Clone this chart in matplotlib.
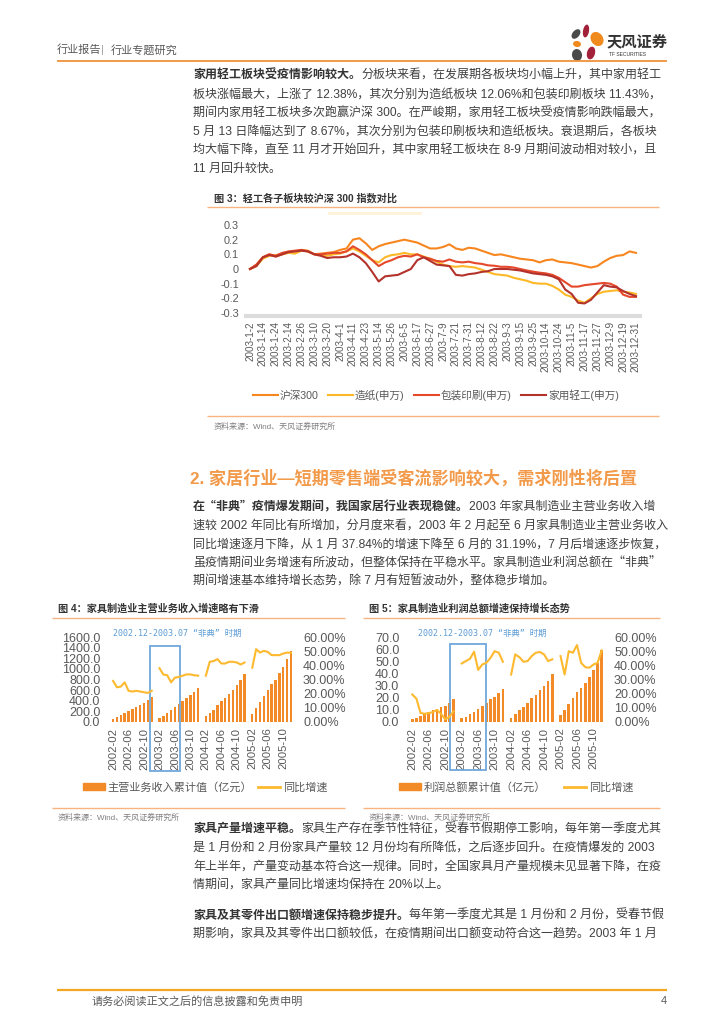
import numpy as np
import matplotlib
matplotlib.use('Agg')
import matplotlib.pyplot as plt
from matplotlib.patches import Rectangle, Ellipse, Patch
from matplotlib.lines import Line2D
import matplotlib.transforms as mtransforms

plt.rcParams['font.family'] = ['Liberation Sans', 'Noto Sans CJK SC', 'DejaVu Sans']
plt.rcParams['axes.unicode_minus'] = False

# ------------------------------------------------------------------ data
# Figure 3: relative performance in 2003, sampled every 4 trading days
sample_day = list(range(0, 241, 4))
hs300 = [0, 0.03, 0.08, 0.1, 0.085, 0.1, 0.115, 0.12, 0.13, 0.125,
         0.1, 0.105, 0.11, 0.115, 0.13, 0.14, 0.2, 0.21, 0.175, 0.13,
         0.155, 0.17, 0.18, 0.19, 0.2, 0.19, 0.18, 0.16, 0.14, 0.14,
         0.15, 0.168, 0.14, 0.13, 0.145, 0.14, 0.125, 0.11, 0.095, 0.1,
         0.09, 0.08, 0.07, 0.065, 0.06, 0.045, 0.06, 0.065, 0.05, 0.045,
         0.04, 0.03, 0.02, 0.01, 0.02, 0.05, 0.075, 0.09, 0.095, 0.12, 0.11]
paper = [0, 0.02, 0.07, 0.09, 0.095, 0.1, 0.11, 0.105, 0.125, 0.12,
         0.1, 0.095, 0.09, 0.1, 0.105, 0.12, 0.14, 0.12, 0.09, 0.06,
         0.045, 0.08, 0.095, 0.1, 0.11, 0.1, 0.1, 0.085, 0.07, 0.05,
         0.03, 0.02, 0.015, 0.02, 0.015, 0.01, -0.005, -0.02, -0.035, -0.04,
         -0.045, -0.06, -0.07, -0.08, -0.095, -0.1, -0.1, -0.115, -0.14, -0.175,
         -0.19, -0.215, -0.23, -0.2, -0.17, -0.155, -0.15, -0.145, -0.155, -0.16, -0.17]
packaging = [0, 0.03, 0.08, 0.1, 0.09, 0.11, 0.12, 0.125, 0.13, 0.12,
             0.1, 0.1, 0.105, 0.11, 0.11, 0.12, 0.155, 0.13, 0.1, 0.06,
             0.02, 0.045, 0.06, 0.08, 0.09, 0.085, 0.1, 0.08, 0.07, 0.055,
             0.05, 0.065, 0.05, 0.045, 0.05, 0.04, 0.035, 0.025, 0.022, 0.015,
             0.015, 0.01, 0.0, -0.01, -0.018, -0.025, -0.03, -0.04, -0.06, -0.09,
             -0.12, -0.12, -0.11, -0.105, -0.1, -0.095, -0.1, -0.12, -0.175, -0.19, -0.19]
household = [0, 0.02, 0.08, 0.095, 0.085, 0.1, 0.115, 0.12, 0.125, 0.12,
             0.1, 0.09, 0.075, 0.08, 0.08, 0.085, 0.105, 0.08, 0.04, -0.02,
             -0.085, -0.05, -0.045, -0.04, -0.02, 0.0, 0.06, 0.08, 0.055, 0.03,
             0.025, 0.02, -0.04, -0.045, -0.035, -0.03, -0.02, -0.015, 0.0, 0.0,
             0.0, -0.005, -0.01, -0.02, -0.03, -0.035, -0.04, -0.05, -0.07, -0.14,
             -0.17, -0.23, -0.235, -0.21, -0.16, -0.11, -0.12, -0.125, -0.15, -0.17, -0.185]
fig3_tick_day = list(range(0, 241, 8))
fig3_tick_labels = ['2003-1-2', '2003-1-14', '2003-1-24', '2003-2-14', '2003-2-26',
                    '2003-3-10', '2003-3-20', '2003-4-1', '2003-4-11', '2003-4-23',
                    '2003-5-14', '2003-5-26', '2003-6-5', '2003-6-17', '2003-6-27',
                    '2003-7-9', '2003-7-21', '2003-7-31', '2003-8-12', '2003-8-22',
                    '2003-9-3', '2003-9-15', '2003-9-25', '2003-10-14', '2003-10-24',
                    '2003-11-5', '2003-11-17', '2003-11-27', '2003-12-9', '2003-12-19',
                    '2003-12-31']
fig3_series = ['沪深300', '造纸(申万)', '包装印刷(申万)', '家用轻工(申万)']

# Figures 4 & 5: monthly, 2002-02 .. 2005-12 (January not reported)
months = [f'{y}-{m:02d}' for y in range(2002, 2006) for m in range(1, 13)][1:]
revenue = [55, 95, 130, 170, 210, 240, 275, 315, 360, 410, 480,
           None, 75, 120, 165, 220, 275, 330, 395, 445, 505, 570, 640,
           None, 105, 170, 230, 320, 390, 450, 530, 605, 695, 790, 900,
           None, 155, 260, 385, 490, 605, 710, 800, 925, 1040, 1180, 1340]
revenue_yoy = [29, 24.5, 25, 28, 22, 21.5, 22, 21.5, 21, 20.5, 22,
               None, 38, 33.5, 33, 28, 31.3, 31.8, 32.7, 33.6, 33.6, 33, 32.7,
               None, 32.7, 42.5, 43, 44.4, 41.3, 41.3, 42.5, 42.5, 42, 40.6, 42,
               None, 38.3, 51.4, 49, 50.2, 49.5, 47.2, 47.2, 47.2, 48.3, 49, 48.8]
profit = [2.5, 3.5, 4.8, 6.5, 8.0, 9.5, 10.5, 12.5, 13.5, 16.0, 19.0,
          None, 3, 4.5, 6.5, 8.5, 10.5, 13, 16, 19, 21, 24, 27.5,
          None, 3.5, 6.8, 9.5, 12.5, 16, 19.5, 22.5, 26.5, 30, 34, 39.5,
          None, 6, 9.5, 15, 19.5, 25, 28, 32, 37, 43, 49, 59.5]
profit_yoy = [19.4, 16.5, 6.4, 5.8, 6.3, 7.0, 8.5, 5.7, 1.9, 3.5, 7.5,
              None, 41.3, 43, 44.6, 49.6, 36.8, 40.6, 41.8, 45.3, 50, 48.9, 42.5,
              None, 33.5, 47.7, 45.8, 42.5, 43, 46.5, 48.9, 49.4, 47.7, 43, 44.2,
              None, 46.5, 33.5, 50, 48.9, 54.3, 41.8, 38.7, 38.3, 40.6, 41.8, 50.5]
sars_start, sars_end = '2002-12', '2003-07'

# ------------------------------------------------------------------ style
W, H = 724, 1024
TEXT = '#404040'
GRAY = '#595959'
LIGHT = '#7F7F7F'
ORANGE_LINE = '#F0913A'
TITLE_LINE = '#F6B483'
BAR = '#F28A27'
YLW = '#FDB92F'
BLUE = '#6FA8DC'
S_COLORS = ['#F7861E', '#FDB827', '#E5482A', '#B3322C']
BODY = 8.65
CJK = ['Liberation Sans', 'Noto Sans CJK SC', 'DejaVu Sans']
CJK_FIRST = ['Noto Sans CJK SC', 'Liberation Sans', 'DejaVu Sans']

fig = plt.figure(figsize=(W / 100, H / 100), dpi=100)
fig.patch.set_facecolor('white')
renderer = fig.canvas.get_renderer()

page = fig.add_axes([0, 0, 1, 1], zorder=0)
page.set_xlim(0, W)
page.set_ylim(H, 0)
page.axis('off')


def fx(x):
    return x / W


def fy(y):
    return 1 - y / H


def txt(x, y, s, size=BODY, color=TEXT, weight='normal', ha='left', **kw):
    return page.text(x, y, s, fontsize=size, color=color, fontweight=weight,
                     ha=ha, va='center', family=kw.pop('family', CJK), **kw)


def rich(x, y, bold, rest, bold_family=CJK):
    t = txt(x, y, bold, weight='bold', color='#333333', family=bold_family)
    bb = t.get_window_extent(renderer)
    x1 = page.transData.inverted().transform((bb.x1, bb.y0))[0]
    txt(x1, y, rest)


def hline(y, xa, xb, color, lw):
    page.plot([xa, xb], [y, y], color=color, lw=lw, solid_capstyle='butt')


# ------------------------------------------------------------------ header / footer
txt(57, 50, '行业报告', size=8, color=GRAY)
txt(101, 50, '|', size=8, color='#A0A0A0')
txt(111, 50, '行业专题研究', size=8, color=GRAY)
hline(61, 57, 667, ORANGE_LINE, 1.3)

# logo
for (cx, cy, w, h, ang, col) in [(576, 34, 7, 11, 40, '#4A4A4A'),
                                 (586, 31, 6, 13, 10, '#A3203A'),
                                 (597, 39, 12, 15, -35, '#F08A1C'),
                                 (577, 44, 8, 6, 10, '#F08A1C'),
                                 (591, 53, 8, 13, 15, '#A3203A'),
                                 (577, 55, 10, 12, -10, '#4A4A4A')]:
    page.add_patch(Ellipse((cx, cy), w, h, angle=ang, color=col, lw=0))
txt(607, 42, '天风证券', size=11, color='#333333', weight='bold')
txt(609, 55, 'TF SECURITIES', size=3.6, color='#333333')

hline(990, 57, 667, '#F5A623', 1.6)
txt(92, 1001, '请务必阅读正文之后的信息披露和免责申明', size=8, color=GRAY)
txt(667, 1001, '4', size=8, color=GRAY, ha='right')

# ------------------------------------------------------------------ paragraph 1
LS = 18.6
p1 = 76
rich(193, p1, '家用轻工板块受疫情影响较大。', '分板块来看，在发展期各板块均小幅上升，其中家用轻工')
p1_lines = ['板块涨幅最大，上涨了 12.38%，其次分别为造纸板块 12.06%和包装印刷板块 11.43%，',
            '期间内家用轻工板块多次跑赢沪深 300。在严峻期，家用轻工板块受疫情影响跌幅最大，',
            '5 月 13 日降幅达到了 8.67%，其次分别为包装印刷板块和造纸板块。衰退期后，各板块',
            '均大幅下降，直至 11 月才开始回升，其中家用轻工板块在 8-9 月期间波动相对较小，且',
            '11 月回升较快。']
for k, s in enumerate(p1_lines):
    txt(193, p1 + (k + 1) * LS, s)

# ------------------------------------------------------------------ figure 3
txt(214, 198, '图 3：轻工各子板块较沪深 300 指数对比', size=7.3, weight='bold', color='#333333')
hline(207, 207, 659, TITLE_LINE, 1.0)
page.add_patch(Rectangle((328, 211.5), 94, 3.5, color='#FFF4DA', lw=0))

ax3 = fig.add_axes([fx(246), fy(313), (640 - 246) / W, (313 - 225) / H])
for sp in ['top', 'right', 'left']:
    ax3.spines[sp].set_visible(False)
ax3.spines['bottom'].set_position(('outward', 2))
ax3.spines['bottom'].set_color('#DCDCDC')
ax3.spines['bottom'].set_linewidth(3)
for vals, col, lab in zip([hs300, paper, packaging, household], S_COLORS, fig3_series):
    ax3.plot(sample_day, vals, color=col, lw=1.5, label=lab, solid_joinstyle='round')
ax3.set_xlim(-2.5, 242.5)
ax3.set_ylim(-0.3, 0.3)
ax3.set_yticks([0.3, 0.2, 0.1, 0, -0.1, -0.2, -0.3])
ax3.set_yticklabels(['0.3', '0.2', '0.1', '0', '-0.1', '-0.2', '-0.3'])
ax3.set_xticks(fig3_tick_day)
ax3.set_xticklabels(fig3_tick_labels)
ax3.tick_params(axis='y', length=0, pad=5, labelsize=7.8, labelcolor=GRAY)
ax3.tick_params(axis='x', length=0, pad=4, labelsize=7.1, labelcolor=GRAY, labelrotation=90)
ax3.patch.set_alpha(0)

h3, l3 = ax3.get_legend_handles_labels()
fig.legend(h3, l3, loc='center', bbox_to_anchor=(fx(436), fy(395)), ncol=4,
           frameon=False, handlelength=2.3, handletextpad=0.2,
           columnspacing=0.9, labelcolor=GRAY, prop={'family': CJK, 'size': 7.7})

hline(416, 207, 659, TITLE_LINE, 1.0)
txt(214, 427, '资料来源：Wind、天风证券研究所', size=5.8, color=LIGHT)

# ------------------------------------------------------------------ section 2
txt(190, 478, '2. 家居行业—短期零售端受客流影响较大，需求刚性将后置', size=12.3,
    weight='bold', color='#F29A4A')
p2 = 507
rich(193, p2, '在“非典”疫情爆发期间，我国家居行业表现稳健。', '2003 年家具制造业主营业务收入增',
     bold_family=CJK_FIRST)
p2_lines = ['速较 2002 年同比有所增加，分月度来看，2003 年 2 月起至 6 月家具制造业主营业务收入',
            '同比增速逐月下降，从 1 月 37.84%的增速下降至 6 月的 31.19%，7 月后增速逐步恢复，',
            '虽疫情期间业务增速有所波动，但整体保持在平稳水平。家具制造业利润总额在“非典”',
            '期间增速基本维持增长态势，除 7 月有短暂波动外，整体稳步增加。']
for k, s in enumerate(p2_lines):
    txt(193, p2 + (k + 1) * LS, s, family=CJK_FIRST if '“' in s else CJK)


# ------------------------------------------------------------------ figures 4 & 5
def bar_line_chart(left, right, bars, yoy, ymax, ystep, lfmt, box):
    ax = fig.add_axes([fx(left), fy(722), (right - left) / W, 85 / H], zorder=2)
    x = np.arange(len(months))
    b = np.array(bars, dtype=float)
    ok = ~np.isnan(b)
    ax.bar(x[ok], b[ok], width=0.62, color=BAR, lw=0)
    ax.set_xlim(-0.8, len(months) - 0.2)
    ax.set_ylim(0, ymax)
    ticks = np.arange(0, ymax + ystep / 2, ystep)
    ax.set_yticks(ticks)
    ax.set_yticklabels([lfmt.format(v) for v in ticks])
    ax.set_xticks(x[::4])
    ax.set_xticklabels(months[::4], rotation=90)
    ax.tick_params(axis='y', length=0, pad=7, labelsize=9, labelcolor=GRAY)
    ax.tick_params(axis='x', length=0, pad=4, labelsize=8.2, labelcolor=GRAY)
    axr = ax.twinx()
    axr.plot(x, np.array(yoy, dtype=float), color=YLW, lw=1.5)
    axr.set_ylim(0, 60)
    axr.set_yticks(np.arange(0, 61, 10))
    axr.set_yticklabels([f'{v:.2f}%' for v in np.arange(0, 61, 10)])
    axr.tick_params(axis='y', length=0, pad=6.5, labelsize=9, labelcolor=GRAY)
    for a in (ax, axr):
        for sp in a.spines.values():
            sp.set_visible(False)
        a.patch.set_alpha(0)
    i0 = months.index(sars_start)
    i1 = months.index(sars_end)
    tr = mtransforms.blended_transform_factory(axr.transData, axr.transAxes)
    axr.add_patch(Rectangle((i0 + box[0], box[2]), (i1 - i0) + box[1] - box[0],
                            box[3] - box[2], transform=tr, fill=False,
                            ec=BLUE, lw=1.3, clip_on=False))
    return ax


# figure 4
txt(58, 609, '图 4：家具制造业主营业务收入增速略有下滑', size=7.3, weight='bold', color='#333333')
hline(618, 52, 345, TITLE_LINE, 1.0)
bar_line_chart(110, 294, revenue, revenue_yoy, 1600, 200, '{:.1f}', (-0.4, 0.4, -0.576, 0.894))
txt(177, 633, '2002.12-2003.07 “非典” 时期', size=6, color='#5B9BD5', ha='center',
    family=['DejaVu Sans Mono', 'Noto Sans CJK SC'])
fig.legend([Patch(color=BAR), Line2D([], [], color=YLW, lw=2)],
           ['主营业务收入累计值（亿元）', '同比增速'], loc='center',
           bbox_to_anchor=(fx(205), fy(787)), ncol=2, frameon=False,
           handlelength=2.0, handleheight=0.5, handletextpad=0.25, columnspacing=0.5,
           labelcolor=GRAY, prop={'family': CJK, 'size': 8})
hline(808, 52, 345, TITLE_LINE, 1.0)
txt(58, 818, '资料来源：Wind、天风证券研究所', size=5.8, color=LIGHT)

# figure 5
txt(369, 609, '图 5：家具制造业利润总额增速保持增长态势', size=7.3, weight='bold', color='#333333')
hline(618, 363, 660, TITLE_LINE, 1.0)
bar_line_chart(409, 605, profit, profit_yoy, 70, 10, '{:.1f}', (-0.75, 0.8, -0.567, 0.914))
txt(482, 633, '2002.12-2003.07 “非典” 时期', size=6, color='#5B9BD5', ha='center',
    family=['DejaVu Sans Mono', 'Noto Sans CJK SC'])
fig.legend([Patch(color=BAR), Line2D([], [], color=YLW, lw=2)],
           ['利润总额累计值（亿元）', '同比增速'], loc='center',
           bbox_to_anchor=(fx(516), fy(787)), ncol=2, frameon=False,
           handlelength=2.0, handleheight=0.5, handletextpad=0.25, columnspacing=1.6,
           labelcolor=GRAY, prop={'family': CJK, 'size': 8})
hline(808, 363, 660, TITLE_LINE, 1.0)
txt(369, 818, '资料来源：Wind、天风证券研究所', size=5.8, color=LIGHT)

# ------------------------------------------------------------------ paragraphs 3 & 4
p3 = 829
rich(193, p3, '家具产量增速平稳。', '家具生产存在季节性特征，受春节假期停工影响，每年第一季度尤其')
p3_lines = ['是 1 月份和 2 月份家具产量较 12 月份均有所降低，之后逐步回升。在疫情爆发的 2003',
            '年上半年，产量变动基本符合这一规律。同时，全国家具月产量规模未见显著下降，在疫',
            '情期间，家具产量同比增速均保持在 20%以上。']
for k, s in enumerate(p3_lines):
    txt(193, p3 + (k + 1) * LS, s)
p4 = 916
rich(193, p4, '家具及其零件出口额增速保持稳步提升。', '每年第一季度尤其是 1 月份和 2 月份，受春节假')
txt(193, p4 + LS, '期影响，家具及其零件出口额较低，在疫情期间出口额变动符合这一趋势。2003 年 1 月')

fig.savefig('out.png', dpi=100, facecolor='white')
